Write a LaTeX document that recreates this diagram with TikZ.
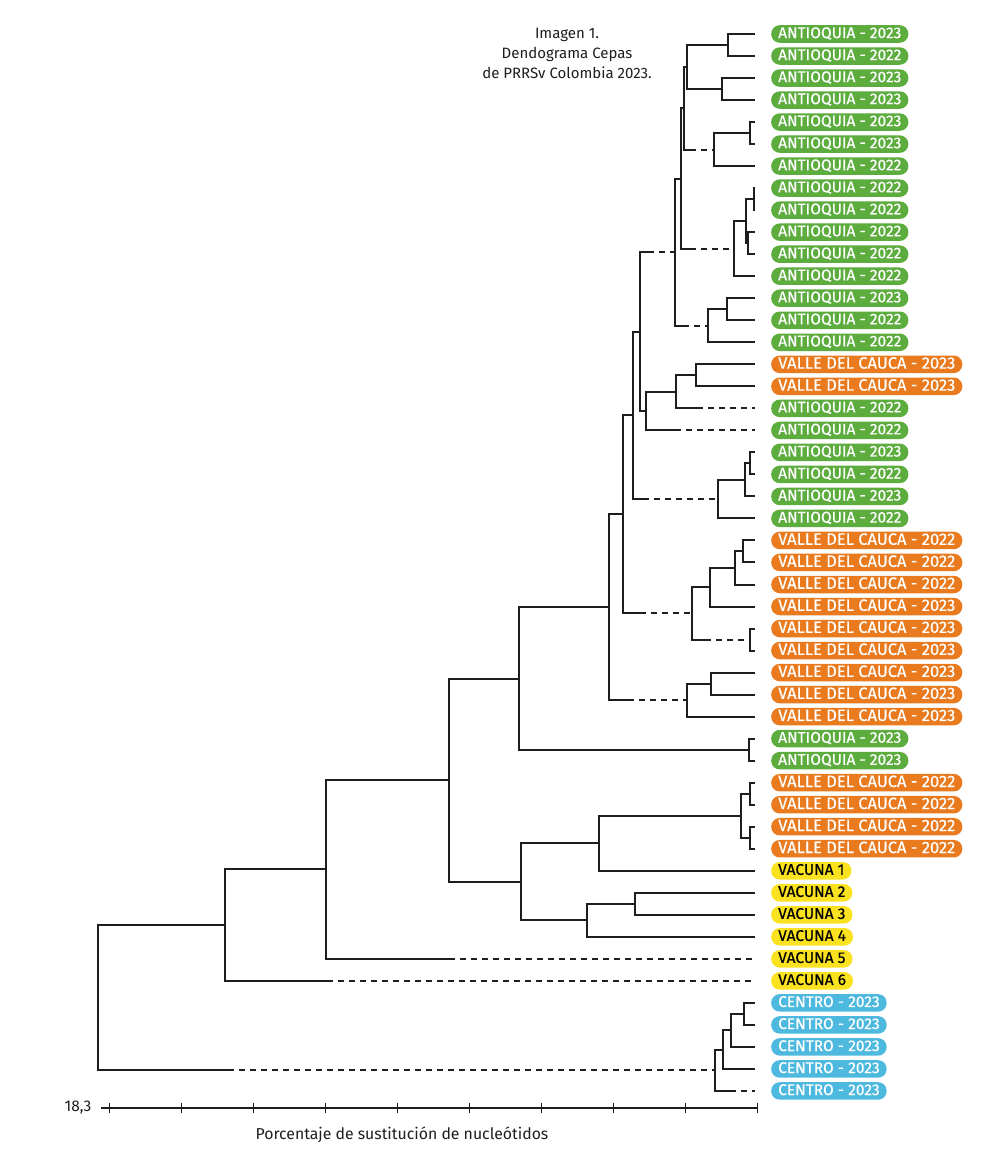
\documentclass[tikz,border=0pt]{standalone}
\usepackage{fontspec}
\setmainfont{Fira Sans}
\newfontfamily\pillfont{Fira Sans}[FakeBold=0.4]
\definecolor{antgreen}{RGB}{92,172,62}
\definecolor{valorange}{RGB}{233,122,30}
\definecolor{vacyellow}{RGB}{250,226,32}
\definecolor{cenblue}{RGB}{78,185,222}
\definecolor{linecol}{RGB}{30,30,30}
\begin{document}
\begin{tikzpicture}[x=1pt,y=-22.02pt,
  br/.style={line width=2pt, draw=linecol},
  dsh/.style={br, dash pattern=on 6pt off 5pt},
  pill/.style={rounded corners=8.5pt, minimum height=17.5pt, inner xsep=7pt, inner ysep=0pt,
    anchor=west, text height=8.2pt, text depth=0pt, font=\pillfont\fontsize{15.5}{17}\selectfont, text=white},
  ant/.style={pill, fill=antgreen},
  val/.style={pill, fill=valorange, text height=8.7pt, font=\pillfont\fontsize{16.5}{17}\selectfont},
  vac/.style={pill, fill=vacyellow, text=black},
  cen/.style={pill, fill=cenblue},
  txt/.style={font=\fontsize{15}{20}\selectfont, text=linecol}]
\useasboundingbox (0,-1.5441) rectangle (1000,51.2262);
\fill[white] (0,-1.5441) rectangle (1000,51.2262);

% title
\node[txt, align=center] (title) at (567,0.9) {Imagen 1.\\Dendograma Cepas\\de PRRSv Colombia 2023.};

% leaves
\foreach \i/\s/\t in {
 0/ant/ANTIOQUIA - 2023, 1/ant/ANTIOQUIA - 2022, 2/ant/ANTIOQUIA - 2023, 3/ant/ANTIOQUIA - 2023,
 4/ant/ANTIOQUIA - 2023, 5/ant/ANTIOQUIA - 2023, 6/ant/ANTIOQUIA - 2022, 7/ant/ANTIOQUIA - 2022,
 8/ant/ANTIOQUIA - 2022, 9/ant/ANTIOQUIA - 2022, 10/ant/ANTIOQUIA - 2022, 11/ant/ANTIOQUIA - 2022,
 12/ant/ANTIOQUIA - 2023, 13/ant/ANTIOQUIA - 2022, 14/ant/ANTIOQUIA - 2022,
 15/val/VALLE DEL CAUCA - 2023, 16/val/VALLE DEL CAUCA - 2023,
 17/ant/ANTIOQUIA - 2022, 18/ant/ANTIOQUIA - 2022,
 19/ant/ANTIOQUIA - 2023, 20/ant/ANTIOQUIA - 2022, 21/ant/ANTIOQUIA - 2023, 22/ant/ANTIOQUIA - 2022,
 23/val/VALLE DEL CAUCA - 2022, 24/val/VALLE DEL CAUCA - 2022, 25/val/VALLE DEL CAUCA - 2022,
 26/val/VALLE DEL CAUCA - 2023, 27/val/VALLE DEL CAUCA - 2023, 28/val/VALLE DEL CAUCA - 2023,
 29/val/VALLE DEL CAUCA - 2023, 30/val/VALLE DEL CAUCA - 2023, 31/val/VALLE DEL CAUCA - 2023,
 32/ant/ANTIOQUIA - 2023, 33/ant/ANTIOQUIA - 2023,
 34/val/VALLE DEL CAUCA - 2022, 35/val/VALLE DEL CAUCA - 2022, 36/val/VALLE DEL CAUCA - 2022,
 37/val/VALLE DEL CAUCA - 2022,
 38/vac/VACUNA 1, 39/vac/VACUNA 2, 40/vac/VACUNA 3, 41/vac/VACUNA 4, 42/vac/VACUNA 5, 43/vac/VACUNA 6,
 44/cen/CENTRO - 2023, 45/cen/CENTRO - 2023, 46/cen/CENTRO - 2023, 47/cen/CENTRO - 2023, 48/cen/CENTRO - 2023}
{
  \coordinate (e\i) at (755,\i);
  \node[\s] (l\i) at (771,\i) {\t};
}

% internal nodes
\coordinate (A) at (728,0.5);
\coordinate (B) at (722,2.5);
\coordinate (AB) at (687,1.5);
\coordinate (C1) at (750,4.5);
\coordinate (C) at (714,5.25);
\coordinate (ABC) at (684,3.375);
\coordinate (D1) at (754,7.5);
\coordinate (D2) at (748,9.5);
\coordinate (D12) at (746,8.5);
\coordinate (D) at (734,9.75);
\coordinate (P1) at (681,6.5625);
\coordinate (E1) at (727,12.5);
\coordinate (E) at (708,13.25);
\coordinate (P2) at (675,9.906);
\coordinate (F1) at (696,15.5);
\coordinate (F2) at (676,16.25);
\coordinate (F) at (646,17.125);
\coordinate (Q) at (640,13.516);
\coordinate (G1) at (750,19.5);
\coordinate (G2) at (745,20.25);
\coordinate (G) at (718,21.125);
\coordinate (R) at (633,17.32);
\coordinate (H1) at (743,23.5);
\coordinate (H2) at (735,24.25);
\coordinate (H3) at (710,25.125);
\coordinate (H5) at (750,27.5);
\coordinate (H) at (692,26.3125);
\coordinate (S) at (623,21.816);
\coordinate (I1) at (711,29.5);
\coordinate (I) at (687,30.25);
\coordinate (T) at (609,26.033);
\coordinate (J) at (749,32.5);
\coordinate (U) at (519,29.27);
\coordinate (K1) at (750,34.5);
\coordinate (K2) at (750,36.5);
\coordinate (K3) at (741,35.5);
\coordinate (K) at (599,36.75);
\coordinate (V1) at (635,39.5);
\coordinate (V2) at (587,40.25);
\coordinate (W) at (521,38.5);
\coordinate (X) at (449,33.88);
\coordinate (Y) at (326,37.94);
\coordinate (Z) at (225,40.47);
\coordinate (Cc1) at (744,44.5);
\coordinate (Cc2) at (731,45.25);
\coordinate (Cc3) at (723,46.125);
\coordinate (Cc4) at (715,47.06);
\coordinate (root) at (98,43.77);

% stub points of dashed branches
\coordinate (sC) at (690,5.25);
\coordinate (sD) at (690,9.75);
\coordinate (sE) at (683,13.25);
\coordinate (sP2) at (648,9.906);
\coordinate (s17) at (697,17);
\coordinate (s18) at (675,18);
\coordinate (sG) at (643,21.125);
\coordinate (sH5) at (705,27.5);
\coordinate (sH) at (640,26.3125);
\coordinate (sI) at (628,30.25);
\coordinate (s42) at (449,42);
\coordinate (s43) at (327,43);
\coordinate (s48) at (730,48);
\coordinate (sCc4) at (228,47.06);

% solid branches
\foreach \p/\c in {A/e0, A/e1, B/e2, B/e3, AB/A, AB/B, C1/e4, C1/e5, C/C1, C/e6, ABC/AB,
  D1/e7, D1/e8, D2/e9, D2/e10, D12/D1, D12/D2, D/D12, D/e11, P1/ABC,
  E1/e12, E1/e13, E/E1, E/e14, P2/P1,
  F1/e15, F1/e16, F2/F1, F/F2, Q/F,
  G1/e19, G1/e20, G2/G1, G2/e21, G/G2, G/e22, R/Q,
  H1/e23, H1/e24, H2/H1, H2/e25, H3/H2, H3/e26, H5/e27, H5/e28, H/H3, S/R,
  I1/e29, I1/e30, I/I1, I/e31, T/S, J/e32, J/e33, U/T, U/J,
  K1/e34, K1/e35, K2/e36, K2/e37, K3/K1, K3/K2, K/K3, K/e38,
  V1/e39, V1/e40, V2/V1, V2/e41, W/K, W/V2, X/U, X/W, Y/X, Z/Y,
  Cc1/e44, Cc1/e45, Cc2/Cc1, Cc2/e46, Cc3/Cc2, Cc3/e47, Cc4/Cc3, root/Z}
  {\draw[br] (\p) |- (\c);}

% dashed branches (solid stub, then dashes)
\foreach \p/\s/\c in {ABC/sC/C, P1/sD/D, P2/sE/E, Q/sP2/P2, F2/s17/e17, F/s18/e18,
  R/sG/G, H/sH5/H5, S/sH/H, T/sI/I, Y/s42/e42, Z/s43/e43, Cc4/s48/e48, root/sCc4/Cc4}
  {\draw[br] (\p) |- (\s); \draw[dsh] (\s) -- (\c);}

% axis
\coordinate (ax0) at (101,48.774);
\coordinate (ax1) at (757.6,48.774);
\draw[br] (ax0) -- (ax1);
\foreach \k in {0,...,9}
  {\draw[line width=1.6pt, draw=linecol] ({109.6+71.999*\k},48.547) -- ({109.6+71.999*\k},49.001);}
\node[txt, anchor=east, font=\fontsize{15.5}{18}\selectfont] (scale) at (95,48.774) {18,3};
\node[txt, font=\fontsize{15.8}{18}\selectfont] (axlabel) at (402,50.0) {Porcentaje de sustitución de nucleótidos};
\end{tikzpicture}
\end{document}
